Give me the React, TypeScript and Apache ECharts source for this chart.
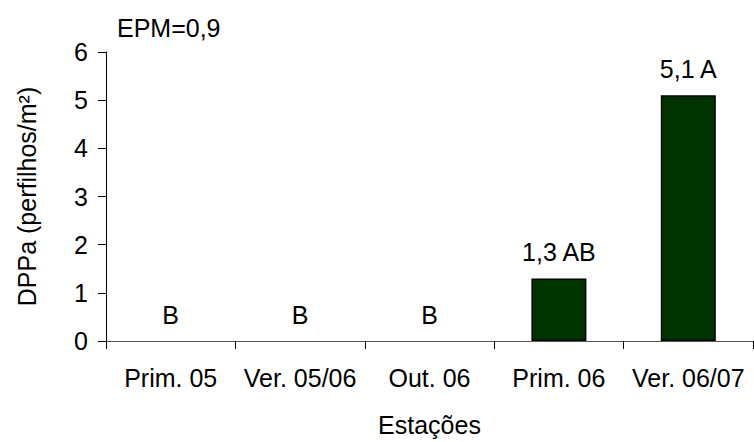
import React, { useEffect, useRef } from "react";
import * as echarts from "echarts";

const categories = ["Prim. 05", "Ver. 05/06", "Out. 06", "Prim. 06", "Ver. 06/07"];
const values = [0, 0, 0, 1.3, 5.1];
const barLabels = ["B", "B", "B", "1,3 AB", "5,1 A"];
const yTicks = [0, 1, 2, 3, 4, 5, 6];
const epmText = "EPM=0,9";

export default function App() {
  const ref = useRef<HTMLDivElement>(null);
  useEffect(() => {
    if (!ref.current) return;
    const chart = echarts.init(ref.current, undefined, { renderer: "svg" });
    const font = "Liberation Sans, Arial, sans-serif";
    const fs = 25;
    chart.setOption({
      animation: false,
      backgroundColor: "#ffffff",
      textStyle: { fontFamily: font, color: "#000" },
      grid: { left: 106, right: 1, top: 52, bottom: 95, containLabel: false },
      graphic: [
        {
          type: "text",
          x: 117,
          y: 28,
          style: {
            text: epmText,
            fontSize: fs,
            fontFamily: font,
            fill: "#000",
            verticalAlign: "middle",
            align: "left",
          },
        },
      ],
      xAxis: {
        type: "category",
        data: categories,
        name: "Estações",
        nameLocation: "middle",
        nameGap: 71,
        nameTextStyle: { fontSize: fs, fontFamily: font, color: "#000" },
        axisLine: { lineStyle: { color: "#555", width: 1 } },
        axisTick: { show: true, length: 8, lineStyle: { color: "#000" } },
        axisLabel: { fontSize: fs, fontFamily: font, color: "#000", margin: 24, interval: 0 },
      },
      yAxis: {
        type: "value",
        min: yTicks[0],
        max: yTicks[yTicks.length - 1],
        interval: 1,
        name: "DPPa (perfilhos/m²)",
        nameLocation: "middle",
        nameRotate: 90,
        nameGap: 67,
        nameTextStyle: { fontSize: fs, fontFamily: font, color: "#000" },
        axisLine: { show: true, lineStyle: { color: "#000", width: 1 } },
        axisTick: { show: true, length: 8, lineStyle: { color: "#000" } },
        axisLabel: { fontSize: fs, fontFamily: font, color: "#000", margin: 18 },
        splitLine: { show: false },
      },
      series: [
        {
          type: "bar",
          data: values.map((v) => (v === 0 ? { value: v, itemStyle: { borderWidth: 0 } } : v)),
          barWidth: "42.5%",
          itemStyle: { color: "#003300", borderColor: "#000", borderWidth: 1.5 },
          label: {
            show: true,
            position: "top",
            distance: 14,
            fontSize: fs,
            fontFamily: font,
            color: "#000",
            formatter: (p: any) => barLabels[p.dataIndex],
          },
        },
      ],
    });
    return () => chart.dispose();
  }, []);
  return <div ref={ref} style={{ width: 754, height: 442, position: "absolute", left: 0, top: 0 }} />;
}
